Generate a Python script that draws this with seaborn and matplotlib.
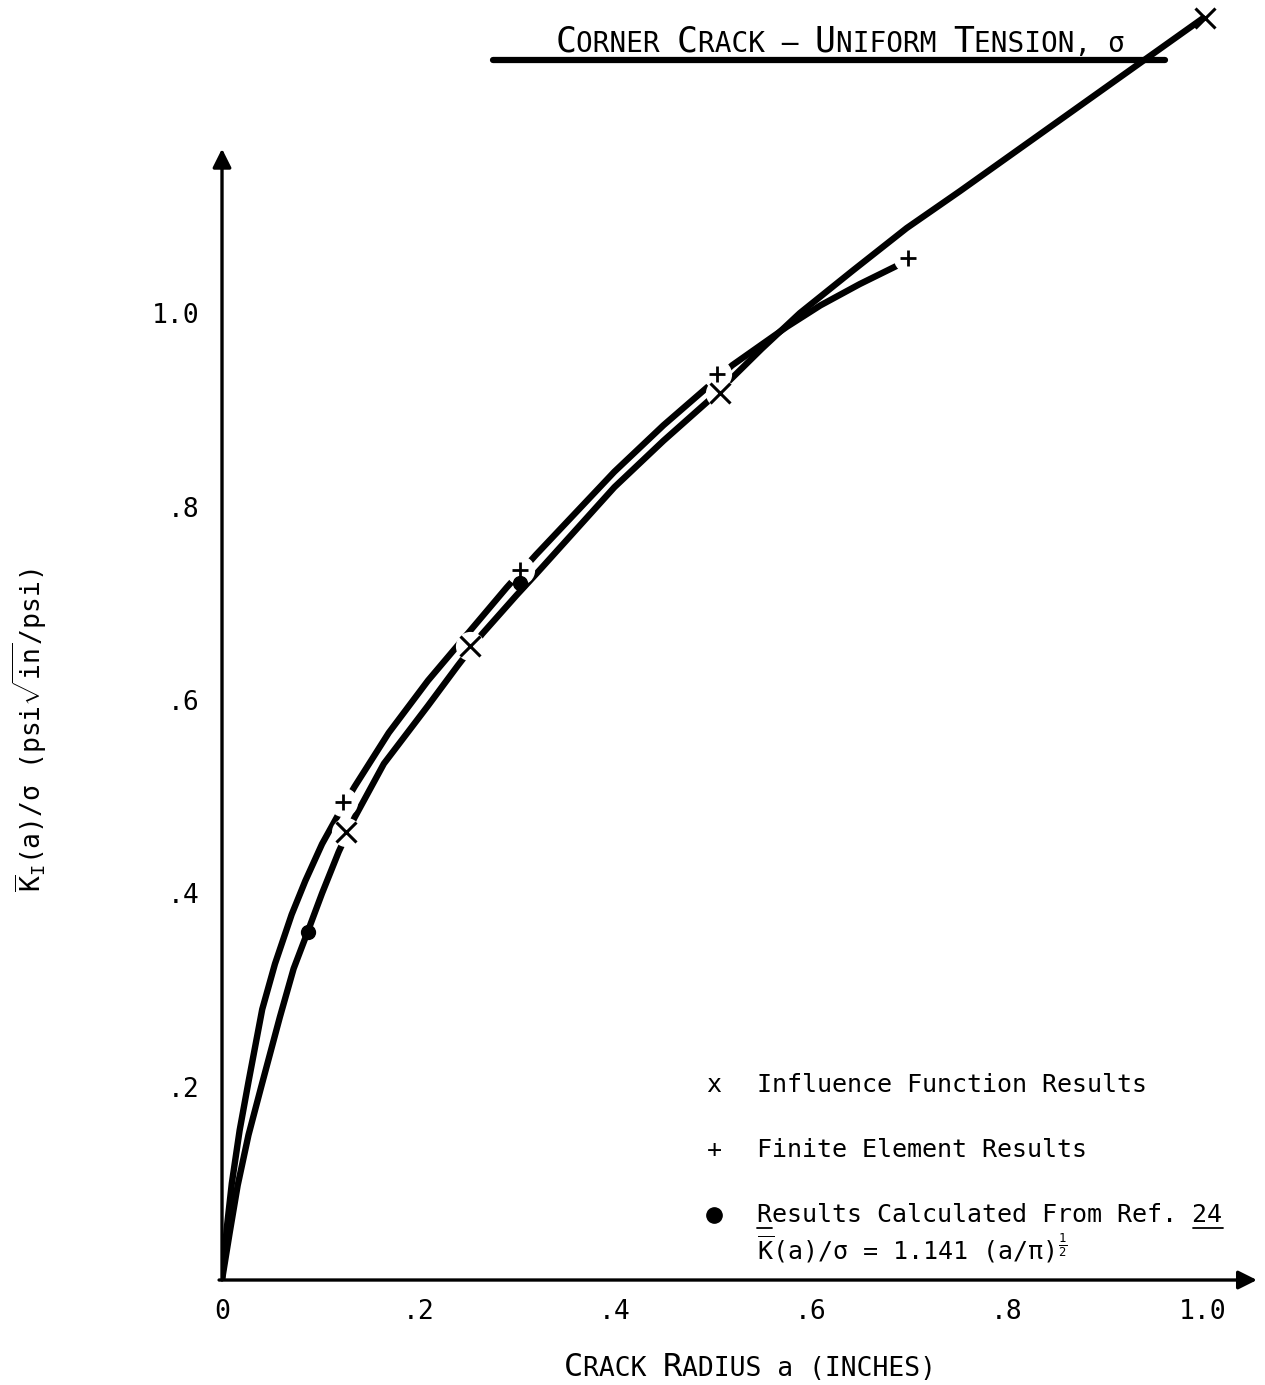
import matplotlib
matplotlib.use("Agg")
import matplotlib.pyplot as plt
from matplotlib.offsetbox import TextArea, HPacker, AnchoredOffsetbox
from matplotlib.lines import Line2D
import seaborn as sns

# curves (a in inches, K/sigma)
fe_curve_a = [0, 0.005, 0.010, 0.018, 0.027, 0.041, 0.054, 0.071, 0.085, 0.102, 0.120, 0.135,
              0.170, 0.210, 0.250, 0.290, 0.320, 0.400, 0.450, 0.500, 0.520, 0.576, 0.610,
              0.650, 0.690]
fe_curve_k = [0, 0.055, 0.100, 0.155, 0.205, 0.280, 0.327, 0.378, 0.413, 0.451, 0.484, 0.510,
              0.566, 0.620, 0.668, 0.716, 0.750, 0.836, 0.884, 0.928, 0.946, 0.986, 1.008,
              1.030, 1.050]

infl_curve_a = [0, 0.008, 0.016, 0.027, 0.040, 0.059, 0.073, 0.088, 0.102, 0.119, 0.135, 0.165,
                0.210, 0.240, 0.265, 0.300, 0.320, 0.400, 0.450, 0.500, 0.550, 0.589, 0.643,
                0.698, 0.752, 1.000]
infl_curve_k = [0, 0.050, 0.098, 0.150, 0.200, 0.272, 0.322, 0.362, 0.400, 0.443, 0.478, 0.534,
                0.594, 0.635, 0.668, 0.708, 0.730, 0.820, 0.868, 0.913, 0.963, 1.000, 1.044,
                1.088, 1.126, 1.305]

# data points
infl_a = [0.126, 0.253, 0.508, 1.002]
infl_k = [0.463, 0.656, 0.917, 1.305]
fe_a = [0.123, 0.304, 0.505, 0.699]
fe_k = [0.494, 0.734, 0.937, 1.057]
ref_a = [0.088, 0.304]
ref_k = [0.360, 0.721]

x_ticks = [0, 0.2, 0.4, 0.6, 0.8, 1.0]
x_labels = ["0", ".2", ".4", ".6", ".8", "1.0"]
y_ticks = [0.2, 0.4, 0.6, 0.8, 1.0]
y_labels = [".2", ".4", ".6", ".8", "1.0"]

sns.set_style("white")
plt.rcParams['font.family'] = ['DejaVu Sans Mono', 'DejaVu Sans']
plt.rcParams['text.color'] = 'black'
plt.rcParams['xtick.color'] = 'black'
plt.rcParams['ytick.color'] = 'black'
plt.rcParams['mathtext.fontset'] = 'custom'
plt.rcParams['mathtext.rm'] = 'DejaVu Sans Mono'
plt.rcParams['mathtext.it'] = 'DejaVu Sans Mono'
plt.rcParams['mathtext.bf'] = 'DejaVu Sans Mono:bold'

fig = plt.figure(figsize=(12.65, 13.85), dpi=100)
ax = fig.add_axes([0.1755, 0.0758, 0.822, 0.9215])
ax.set_xlim(0, 1.06)
ax.set_ylim(0, 1.32)
for s in ax.spines.values():
    s.set_visible(False)

# the two curves
sns.lineplot(x=fe_curve_a, y=fe_curve_k, ax=ax, color='black', linewidth=4.6,
             solid_joinstyle='round', zorder=2)
sns.lineplot(x=infl_curve_a, y=infl_curve_k, ax=ax, color='black', linewidth=4.6,
             solid_joinstyle='round', zorder=2)

# white blanks where the pen lifted around the symbols
ax.plot(fe_a, fe_k, 'o', color='white', ms=20, zorder=3)
ax.plot(infl_a[:3], infl_k[:3], 'o', color='white', ms=20, zorder=3)

ax.plot(infl_a, infl_k, 'x', color='black', ms=14, mew=2.2, zorder=4)
ax.plot(fe_a, fe_k, '+', color='black', ms=12, mew=2.0, zorder=4)
ax.plot(ref_a, ref_k, 'o', color='black', ms=10, zorder=4)

# axes drawn as arrows
arrow = dict(arrowstyle='-|>', lw=2.4, color='black', mutation_scale=28, shrinkA=0, shrinkB=0)
ax.annotate("", xy=(0, 1.17), xytext=(0, 0), arrowprops=arrow, zorder=1)
ax.annotate("", xy=(1.055, 0), xytext=(-0.003, 0), arrowprops=arrow, zorder=1)

ax.set_xticks(x_ticks)
ax.set_xticklabels(x_labels)
ax.set_xticks([0.1, 0.3, 0.5, 0.7, 0.9], minor=True)
ax.set_yticks(y_ticks)
ax.set_yticklabels(y_labels)
ax.set_yticks([0.1, 0.3, 0.5, 0.7, 0.9], minor=True)
ax.tick_params(which='both', direction='in', width=1.6, color='black', labelsize=19, pad=14)
ax.tick_params(which='major', length=11)
ax.tick_params(which='minor', length=8)
ax.tick_params(axis='y', pad=16)

# legend written as plain text like the original
lx, tx = 0.5015, 0.545
ch = 18 * 100 / 72 * 0.602 / 981   # one monospace character in data units
ax.text(lx, 0.2017, "x", fontsize=18, ha='center', va='center')
ax.text(tx, 0.2017, "Influence Function Results", fontsize=18, va='center')
ax.text(lx, 0.134, "+", fontsize=18, ha='center', va='center')
ax.text(tx, 0.134, "Finite Element Results", fontsize=18, va='center')
ax.plot([lx], [0.067], 'o', color='black', ms=11)
ax.text(tx, 0.067, "Results Calculated From Ref. 24", fontsize=18, va='center')
ax.plot([tx, tx + ch], [0.054, 0.054], color='black', lw=1.3)
ax.plot([tx + 29 * ch, tx + 31 * ch], [0.054, 0.054], color='black', lw=1.3)
ax.text(tx, 0.033, r"$\overline{\mathrm{K}}$(a)/σ = 1.141 (a/π)$^{\frac{1}{2}}$",
        fontsize=18, va='center')


def small_caps(parts, big, small):
    boxes = [TextArea(t, textprops=dict(size=big if b else small, color='black'))
             for t, b in parts]
    return HPacker(children=boxes, align="baseline", pad=0, sep=0)


title = small_caps([("C", 1), ("ORNER ", 0), ("C", 1), ("RACK – ", 0), ("U", 1),
                    ("NIFORM ", 0), ("T", 1), ("ENSION, σ", 0)], 25, 20)
fig.add_artist(AnchoredOffsetbox(loc='center', child=title, frameon=False, pad=0,
                                 bbox_to_anchor=(0.664, 0.970),
                                 bbox_transform=fig.transFigure))
fig.add_artist(Line2D([493 / 1265, 1165 / 1265], [1 - 60 / 1385, 1 - 60 / 1385],
                      color='black', lw=4.5, transform=fig.transFigure))

xlab = small_caps([("C", 1), ("RACK ", 0), ("R", 1), ("ADIUS a (INCHES)", 0)], 23, 19)
fig.add_artist(AnchoredOffsetbox(loc='center', child=xlab, frameon=False, pad=0,
                                 bbox_to_anchor=(0.593, 0.0125),
                                 bbox_transform=fig.transFigure))

fig.text(30 / 1265, 1 - 730 / 1385,
         r"$\overline{\mathrm{K}}_\mathrm{I}$(a)/σ (psi$\sqrt{\mathrm{in}}$/psi)",
         rotation=90, ha='center', va='center', fontsize=19)

fig.savefig("out.png", dpi=100, facecolor='white')
